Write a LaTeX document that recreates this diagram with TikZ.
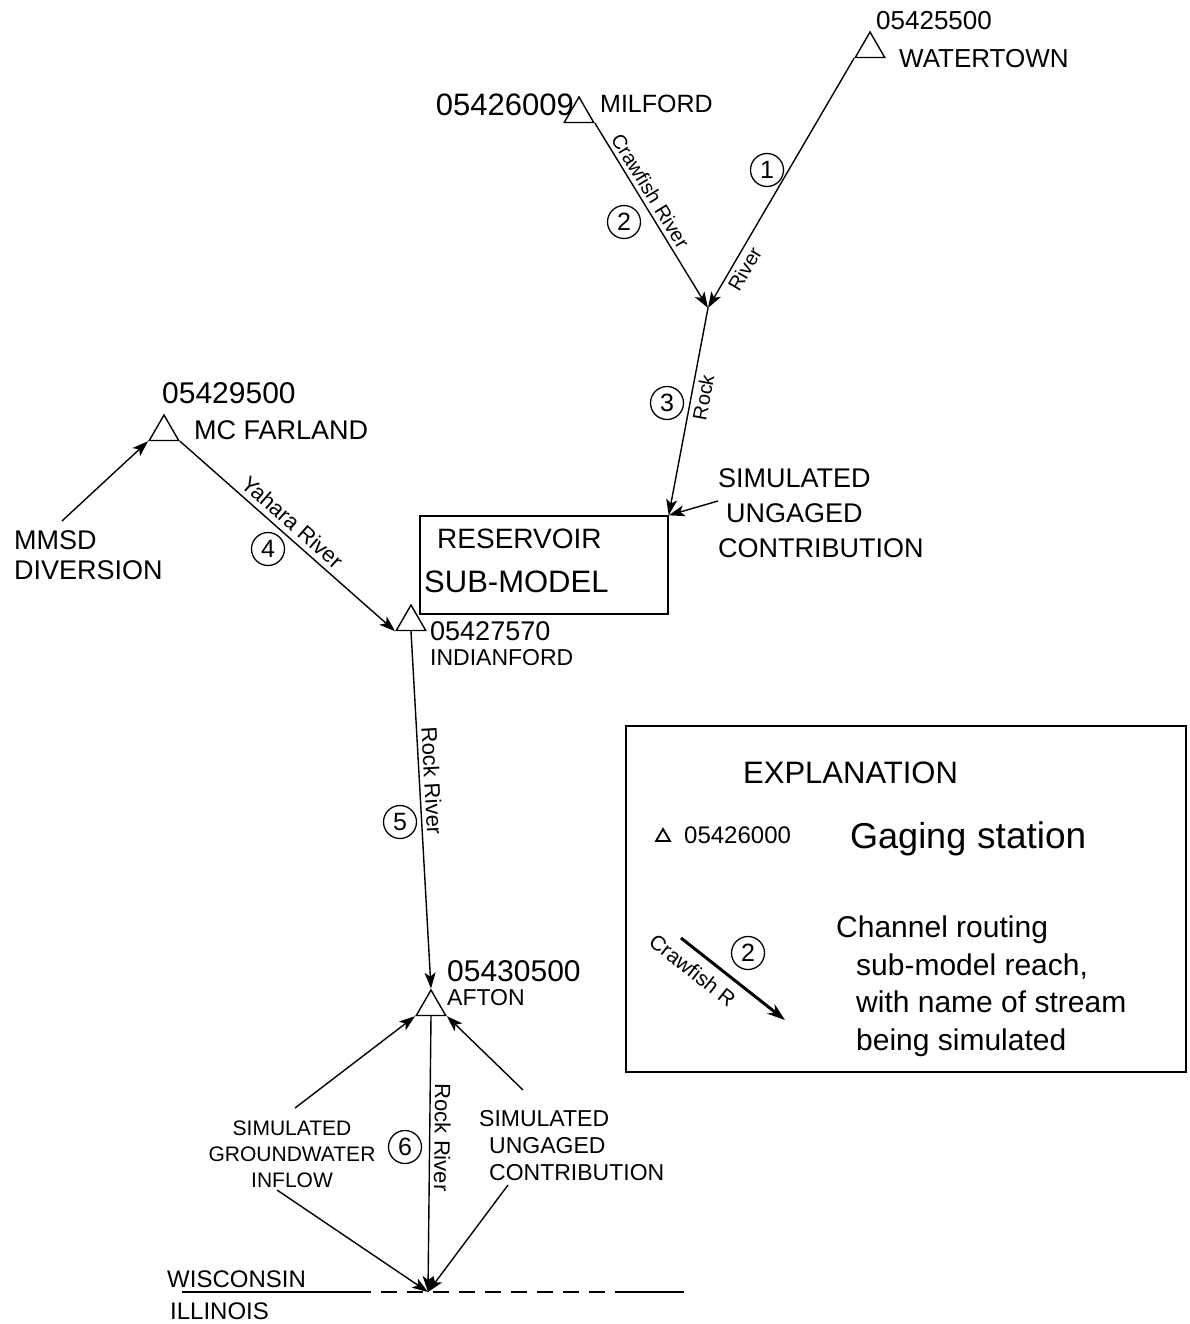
\documentclass[tikz,border=0pt]{standalone}
\usepackage{fontspec}
\setmainfont{Liberation Sans}
\usetikzlibrary{shapes.geometric,arrows.meta}
\newcommand{\myfs}[2]{\fontsize{#1}{#2}\selectfont}
\begin{document}
\begin{tikzpicture}[x=1pt,y=-1pt,
  gage/.style={draw, regular polygon, regular polygon sides=3, minimum size=34pt, inner sep=0pt, line width=1.4pt},
  reach/.style={line width=1.4pt},
  arr/.style={reach, -{Stealth[length=16pt,width=11pt,inset=4pt]}},
  num/.style={draw, circle, minimum size=33pt, inner sep=0pt, line width=1.3pt, font=\myfs{25}{28}},
  lbl/.style={inner sep=0pt, anchor=west, align=left},
  riv/.style={sloped, font=\myfs{20}{24}, inner sep=4pt}]
\useasboundingbox (0,0) rectangle (1190,1324);

% gaging stations
\node[gage] (wt) at (870,49) {};
\node[gage] (mf) at (579,114) {};
\node[gage] (mc) at (164,432) {};
\node[gage] (ind) at (411,622) {};
\node[gage] (af) at (431,1007) {};
\coordinate (c1) at (708,308);
\coordinate (sl) at (428,1292);

% station labels
\node[lbl, font=\myfs{26}{30}] (wtnum) at (876,21) {05425500};
\node[lbl, font=\myfs{26}{30}] (wtname) at (899,59) {WATERTOWN};
\node[lbl, anchor=east, font=\myfs{31}{34}] (mfnum) at (574,105) {05426009};
\node[lbl, font=\myfs{25}{28}] (mfname) at (600,104) {MILFORD};
\node[lbl, font=\myfs{30}{34}] (mcnum) at (162,393) {05429500};
\node[lbl, font=\myfs{27}{30}] (mcname) at (194,430) {MC FARLAND};
\node[lbl, anchor=north west, font=\myfs{27}{30}] (mmsd) at (14,530) {MMSD\\DIVERSION};
\node[lbl, font=\myfs{27}{30}] (indnum) at (430,631) {05427570};
\node[lbl, font=\myfs{23}{26}] (indname) at (430,658) {INDIANFORD};
\node[lbl, font=\myfs{30}{34}] (afnum) at (447,971) {05430500};
\node[lbl, font=\myfs{23}{26}] (afname) at (447,998) {AFTON};

% reservoir
\node[draw, line width=1.4pt, minimum width=248pt, minimum height=98pt, inner sep=0pt] (res) at (544,565) {};
\node[lbl, font=\myfs{28}{32}] (resa) at (437,539) {RESERVOIR};
\node[lbl, font=\myfs{31}{34}] (resb) at (424,582) {SUB-MODEL};

% ungaged contribution (top)
\node[lbl, anchor=north west, font=\myfs{27}{35}] (ung1) at (718,468) {SIMULATED\\\hspace*{8pt}UNGAGED\\CONTRIBUTION};
\coordinate (u1) at (718,501);
\draw[arr] (u1) -- (res.north east);

% MMSD
\coordinate (mmsdtip) at (62,521);
\draw[arr] (mmsdtip) -- (mc.corner 2);

% reaches
\draw[arr] (wt.corner 2) -- node[riv, below, pos=0.82]{River} (c1);
\draw[arr] (mf.corner 3) -- node[riv, above, pos=0.4]{Crawfish River} (c1);
\draw[arr] (c1) -- node[riv, below, pos=0.42]{Rock} (res.north east);
\draw[arr] (mc.corner 3) -- node[riv, above, pos=0.48, font=\myfs{22}{26}, inner sep=5pt]{Yahara River} (ind.corner 2);
\draw[arr] (ind.side 2) -- node[riv, above, pos=0.42, font=\myfs{22}{26}]{Rock River} (af.corner 1);
\draw[arr] (af.side 2) -- node[riv, allow upside down, above, pos=0.44, font=\myfs{22}{26}]{Rock River} (sl);

% reach numbers
\node[num] (n1) at (767,170) {1};
\node[num] (n2) at (624,222) {2};
\node[num] (n3) at (667,403) {3};
\node[num] (n4) at (268,549) {4};
\node[num] (n5) at (400,822) {5};
\node[num] (n6) at (405,1147) {6};

% groundwater inflow
\node[font=\myfs{21}{26}, align=center, inner sep=0pt] (gw) at (292,1154) {SIMULATED\\GROUNDWATER\\INFLOW};
\coordinate (gwt) at (295,1108);
\coordinate (gwb) at (277,1190);
\draw[arr] (gwt) -- (af.corner 2);
\draw[arr] (gwb) -- (sl);

% ungaged contribution (bottom)
\node[lbl, anchor=north west, font=\myfs{23}{27}] (ung2) at (479,1110) {SIMULATED\\\hspace*{10pt}UNGAGED\\\hspace*{10pt}CONTRIBUTION};
\coordinate (ugt) at (523,1090);
\coordinate (ugb) at (508,1185);
\draw[arr] (ugt) -- (af.corner 3);
\draw[arr] (ugb) -- (sl);

% state line
\coordinate (wl) at (182,1292);
\coordinate (d1) at (355,1292);
\coordinate (d2) at (615,1292);
\coordinate (wr) at (684,1292);
\draw[reach] (wl) -- (d1);
\draw[reach, dash pattern=on 16pt off 10pt] (d1) -- (d2);
\draw[reach] (d2) -- (wr);
\node[lbl, font=\myfs{24}{28}] (wis) at (167,1279) {WISCONSIN};
\node[lbl, font=\myfs{24}{28}] (ill) at (170,1311) {ILLINOIS};

% explanation
\node[draw, line width=1.4pt, minimum width=560pt, minimum height=346pt, inner sep=0pt] (leg) at (906,899) {};
\node[lbl, font=\myfs{31}{34}] (expl) at (743,773) {EXPLANATION};
\node[draw, regular polygon, regular polygon sides=3, minimum size=16pt, inner sep=0pt, line width=1.8pt] (legtri) at (663,837) {};
\node[lbl, font=\myfs{24}{28}] (legnum) at (684,835) {05426000};
\node[inner sep=0pt, anchor=base west, font=\myfs{36}{40}] (gag) at (850,848) {Gaging};
\node[inner sep=0pt, anchor=base west, font=\myfs{37}{40}] (stat) at (977,848) {station};
\coordinate (la1) at (681,938);
\coordinate (la2) at (785,1020);
\draw[line width=3pt, -{Stealth[length=18pt,width=12pt]}] (la1) -- node[riv, below, pos=0.22, inner sep=9pt, font=\myfs{21}{24}]{Crawfish R} (la2);
\node[num] (ln2) at (748,953) {2};
\node[lbl, anchor=north west, font=\myfs{30}{37.5}] (chan) at (836,916) {Channel routing\\\hspace*{20pt}sub-model reach,\\\hspace*{20pt}with name of stream\\\hspace*{20pt}being simulated};
\end{tikzpicture}
\end{document}
